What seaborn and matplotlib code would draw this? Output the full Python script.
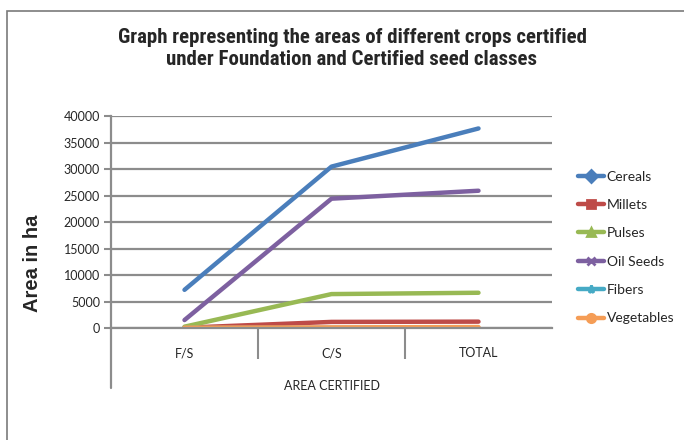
import numpy as np
import pandas as pd
import matplotlib
matplotlib.use("Agg")
import matplotlib.pyplot as plt
from matplotlib.lines import Line2D
from matplotlib.patches import Rectangle
import seaborn as sns

# ── data ─────────────────────────────────────────────────────────────────────
categories = ["F/S", "C/S", "TOTAL"]
cereals    = [7200, 30450, 37650]
millets    = [50, 1150, 1200]
pulses     = [250, 6400, 6650]
oil_seeds  = [1500, 24400, 25900]
fibers     = [0, 20, 20]
vegetables = [60, 120, 180]

series_names = ["Cereals", "Millets", "Pulses", "Oil Seeds", "Fibers", "Vegetables"]
series_vals  = [cereals, millets, pulses, oil_seeds, fibers, vegetables]
colors  = ["#4A7EBB", "#BE4B48", "#98B954", "#7D60A0", "#46AAC5", "#F59D56"]
markers = ["D", "s", "^", "x", "*", "o"]

df = pd.DataFrame({
    "crop" : np.repeat(series_names, len(categories)),
    "pos"  : list(range(len(categories))) * len(series_names),
    "area" : np.concatenate(series_vals),
})

sns.set_style("white")
plt.rcParams["font.family"] = ["Lato", "DejaVu Sans"]

fig = plt.figure(figsize=(6.84, 4.4), dpi=100)
ax = fig.add_axes([111 / 684, 1 - 328 / 440, 441 / 684, 212 / 440])

sns.lineplot(data=df, x="pos", y="area", hue="crop", hue_order=series_names,
             palette=colors, sort=False, linewidth=3.2, legend=False, ax=ax)

grid_c = "#8c8c8c"
ax.set_xlim(-0.5, 2.5)
ax.set_ylim(0, 40000)
ax.set_yticks(np.arange(0, 40001, 5000))
ax.set_yticklabels([str(v) for v in range(0, 40001, 5000)], fontsize=9)
ax.yaxis.grid(True, color=grid_c, lw=1.6)
ax.set_axisbelow(True)
ax.tick_params(axis="y", length=5, width=1.5, color=grid_c, pad=3, left=True)

ax.set_xticks(range(len(categories)))
ax.set_xticklabels(categories, fontsize=9)
ax.set_xticks([0.5, 1.5], minor=True)
ax.tick_params(axis="x", which="major", length=0, pad=14)
ax.tick_params(axis="x", which="minor", length=22, width=1.5, color=grid_c,
               bottom=True)
ax.set_xlabel("AREA CERTIFIED", fontsize=9, labelpad=12)
ax.set_ylabel("")

for s in ["top", "right"]:
    ax.spines[s].set_visible(False)
ax.spines["bottom"].set_color(grid_c)
ax.spines["bottom"].set_linewidth(1.6)
ax.spines["left"].set_color(grid_c)
ax.spines["left"].set_linewidth(1.6)
ax.plot([0, 0], [0, -60 / 212], transform=ax.transAxes, clip_on=False,
        color=grid_c, lw=1.6)

fig.text(33 / 684, 1 - 263 / 440, "Area in ha", rotation=90, ha="center",
         va="center", fontsize=14.5, fontweight="bold",
         family=["Liberation Sans", "DejaVu Sans"])

fig.text(352 / 684, 1 - 48.5 / 440,
         "Graph representing the areas of different crops certified\n"
         "under Foundation and Certified seed classes",
         ha="center", va="center", fontsize=15, fontweight="bold",
         linespacing=1.22, fontstretch="condensed",
         family=["Liberation Sans Narrow", "Roboto Condensed", "Liberation Sans"])

handles = [Line2D([], [], color=c, lw=3.2, marker=m, markersize=6,
                  markeredgewidth=2, markeredgecolor=c)
           for c, m in zip(colors, markers)]
fig.legend(handles, series_names, loc="center left",
           bbox_to_anchor=(572 / 684, 1 - 247.5 / 440), frameon=False,
           fontsize=10, handlelength=1.9, handletextpad=0.2,
           labelspacing=1.18, borderaxespad=0)

fig.patches.append(Rectangle((7 / 684, -0.05), 1.1, 1 - 11 / 440 + 0.05,
                             transform=fig.transFigure, fill=False,
                             edgecolor="#7a7a7a", lw=1.2))

fig.savefig("out.png", dpi=100)
